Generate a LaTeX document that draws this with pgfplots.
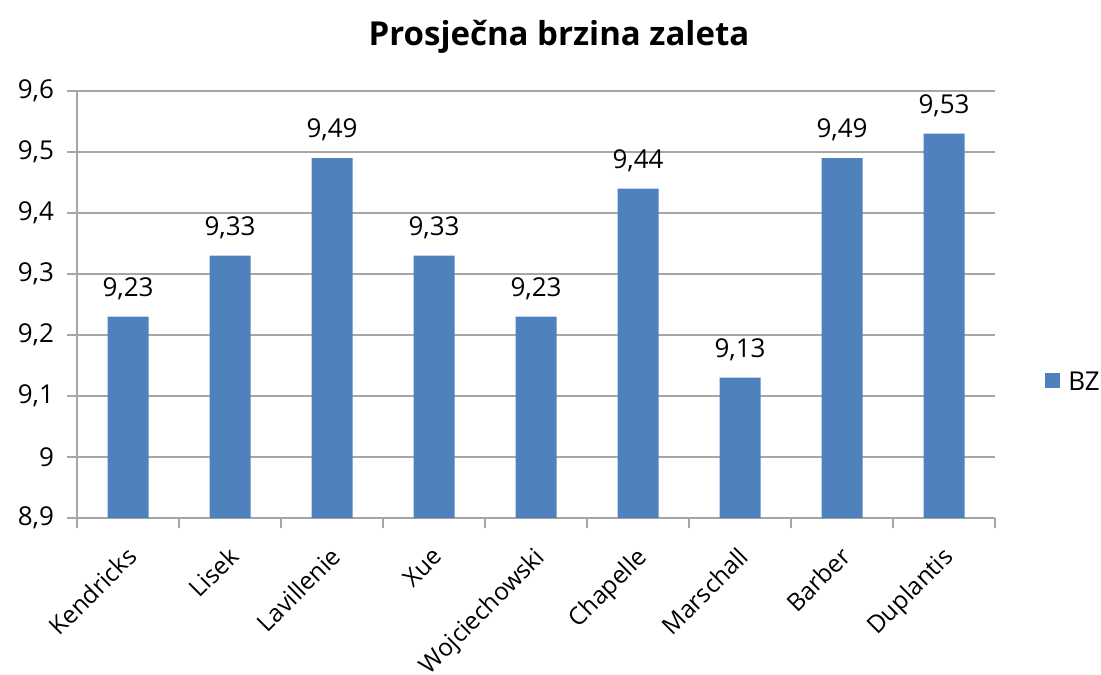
\documentclass[border=0pt]{standalone}
\usepackage{fontspec}
\setmainfont{Open Sans}
\usepackage{pgfplots}
\pgfplotsset{compat=1.18}
\definecolor{barblue}{HTML}{4F81BD}
\definecolor{axgray}{HTML}{A6A6A6}
\begin{document}
\begin{tikzpicture}
\useasboundingbox (-38.5pt,-78pt) rectangle (512pt,259pt);
\begin{axis}[
  at={(0,0)}, anchor=south west,
  scale only axis,
  width=459pt, height=213.5pt,
  ybar, bar width=20.5pt,
  xmin=-0.5, xmax=8.5,
  ymin=8.9, ymax=9.6,
  ytick={8.9,9.0,...,9.61},
  xtick={0,...,8},
  xticklabels={Kendricks,Lisek,Lavillenie,Xue,Wojciechowski,Chapelle,Marschall,Barber,Duplantis},
  minor xtick={-0.5,0.5,...,8.6},
  major x tick style={draw=none},
  minor x tick style={axgray, line width=0.8pt},
  y tick style={axgray, line width=0.8pt},
  tick align=outside,
  major tick length=5pt, minor tick length=5pt,
  axis x line*=bottom, axis y line*=left,
  axis line style={axgray, line width=0.8pt, -},
  ymajorgrids, grid style={axgray, line width=0.8pt},
  xticklabel style={rotate=45, anchor=north east, font=\fontsize{12.2}{14}\selectfont, inner sep=1pt, yshift=-4pt, xshift=-6pt},
  yticklabel style={font=\fontsize{13}{15}\selectfont, xshift=-3pt},
  /pgf/number format/assume math mode=true,
  y tick label style={/pgf/number format/.cd, use comma, fixed, precision=1},
  nodes near coords,
  every node near coord/.append style={font=\fontsize{13}{15}\selectfont, /pgf/number format/.cd, use comma, fixed, fixed zerofill, precision=2, /tikz/.cd, yshift=5pt},
  title={\bfseries Prosječna brzina zaleta},
  title style={font=\fontsize{16.5}{20}\selectfont, yshift=9.5pt, xshift=11.5pt},
  legend style={draw=none, at={(1.054,0.318)}, anchor=west, font=\fontsize{13}{15}\selectfont, inner sep=0pt, nodes={inner xsep=4pt}},
  legend image code/.code={\fill[barblue] (0cm,-0.1cm) rectangle (0.27cm,0.17cm);},
  legend cell align=left,
  clip=false,
]
\addplot[fill=barblue, draw=none] coordinates {
 (0,9.23) (1,9.33) (2,9.49) (3,9.33) (4,9.23) (5,9.44) (6,9.13) (7,9.49) (8,9.53)
};
\legend{BZ}
\end{axis}
\end{tikzpicture}
\end{document}
